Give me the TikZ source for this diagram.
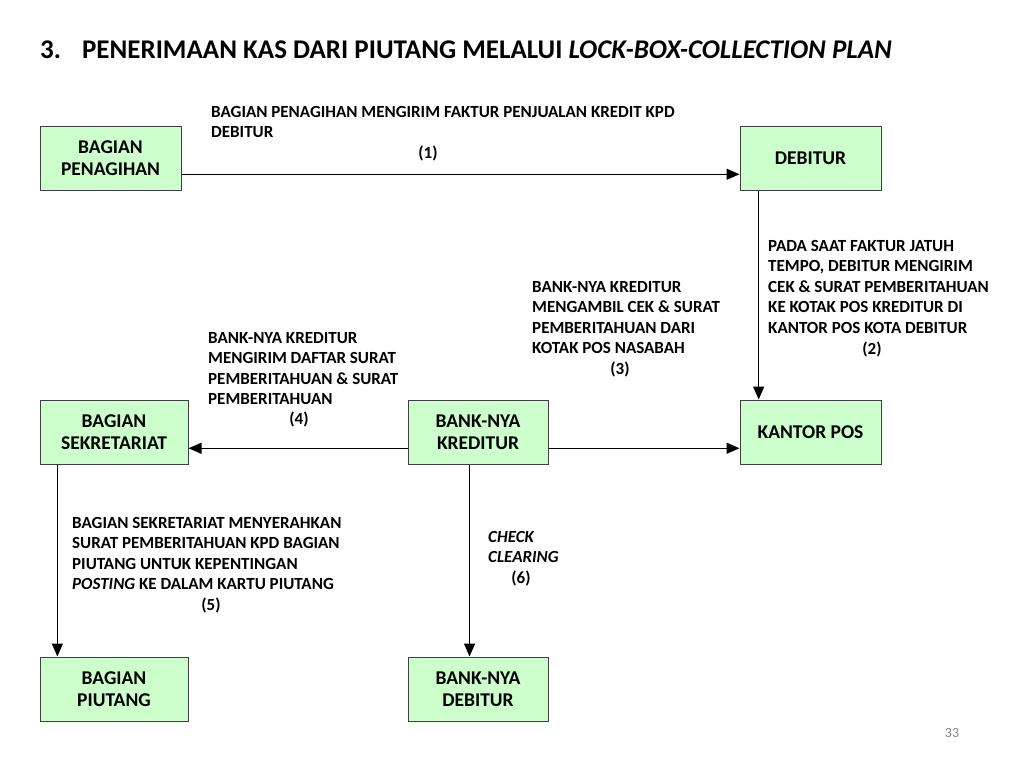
\documentclass[tikz,border=0pt]{standalone}
\usepackage{fontspec}
\setmainfont{Carlito}
\usepackage{tikz}
\usetikzlibrary{positioning, calc, arrows.meta}
\definecolor{boxgreen}{HTML}{CCFFCC}
\definecolor{boxline}{HTML}{404040}
\definecolor{pagegray}{HTML}{888888}

\begin{document}
\begin{tikzpicture}[x=1pt, y=-1pt,
    unit/.style={draw=boxline, fill=boxgreen, line width=1pt, minimum height=64pt,
        align=center, inner sep=0pt, font=\bfseries\fontsize{19.5}{22}\selectfont},
    note/.style={anchor=north west, align=left, inner sep=0pt,
        font=\bfseries\fontsize{17}{20.5}\selectfont},
    num/.style={inner sep=0pt, font=\bfseries\fontsize{17}{20}\selectfont},
    flow/.style={line width=1.4pt, -{Triangle[length=13pt, width=11pt]}}]
            \useasboundingbox (0,0) rectangle (1024,768);
            % title
            \node[anchor=base west, inner sep=0pt, font=\bfseries\fontsize{27}{31}\selectfont] (title) at (40,59)
                {3.\hspace{21pt}PENERIMAAN KAS DARI PIUTANG MELALUI \textit{LOCK-BOX-COLLECTION PLAN}};
            % boxes
            \node[unit, minimum width=141pt] (penagihan) at (110.5,158) {BAGIAN\\PENAGIHAN};
            \node[unit, minimum width=141pt] (debitur) at (810.5,158) {DEBITUR};
            \node[unit, minimum width=148pt] (sekretariat) at (114,432) {BAGIAN\\SEKRETARIAT};
            \node[unit, minimum width=140pt] (kreditur) at (478,432) {BANK-NYA\\KREDITUR};
            \node[unit, minimum width=141pt] (kantorpos) at (810.5,432) {KANTOR POS};
            \node[unit, minimum width=148pt] (piutang) at (114,689) {BAGIAN\\PIUTANG};
            \node[unit, minimum width=140pt] (bankdebitur) at (478,689) {BANK-NYA\\DEBITUR};
            % arrows
            \draw[flow] ($(penagihan.south east)!0.25!(penagihan.north east)$) -- ($(debitur.south west)!0.25!(debitur.north west)$);
            \draw[flow] ($(debitur.south west)!0.135!(debitur.south east)$) -- ($(kantorpos.north west)!0.135!(kantorpos.north east)$);
            \draw[flow] ($(kreditur.south west)!0.25!(kreditur.north west)$) -- ($(sekretariat.south east)!0.25!(sekretariat.north east)$);
            \draw[flow] ($(kreditur.south east)!0.25!(kreditur.north east)$) -- ($(kantorpos.south west)!0.25!(kantorpos.north west)$);
            \draw[flow] ($(sekretariat.south west)!0.12!(sekretariat.south east)$) -- ($(piutang.north west)!0.12!(piutang.north east)$);
            \draw[flow] ($(kreditur.south west)!0.44!(kreditur.south east)$) -- ($(bankdebitur.north west)!0.44!(bankdebitur.north east)$);
            % labels
            \node[note] (lbl1) at (211,106) {BAGIAN PENAGIHAN MENGIRIM FAKTUR PENJUALAN KREDIT KPD\\DEBITUR};
            \node[num] (n1) at (428,153) {(1)};
            \node[note] (lbl2) at (768,240) {PADA SAAT FAKTUR JATUH\\TEMPO, DEBITUR MENGIRIM\\CEK \& SURAT PEMBERITAHUAN\\KE KOTAK POS KREDITUR DI\\KANTOR POS KOTA DEBITUR};
            \node[num] (n2) at (872,349) {(2)};
            \node[note] (lbl3) at (532,281) {BANK-NYA KREDITUR\\MENGAMBIL CEK \& SURAT\\PEMBERITAHUAN DARI\\KOTAK POS NASABAH};
            \node[num] (n3) at (620,369) {(3)};
            \node[note] (lbl4) at (208,332) {BANK-NYA KREDITUR\\MENGIRIM DAFTAR SURAT\\PEMBERITAHUAN \& SURAT\\PEMBERITAHUAN};
            \node[num] (n4) at (299,419) {(4)};
            \node[note] (lbl5) at (72,517) {BAGIAN SEKRETARIAT MENYERAHKAN\\SURAT PEMBERITAHUAN KPD BAGIAN\\PIUTANG UNTUK KEPENTINGAN\\\textit{POSTING} KE DALAM KARTU PIUTANG};
            \node[num] (n5) at (211,605) {(5)};
            \node[note] (lbl6) at (488,531) {\textit{CHECK}\\\textit{CLEARING}};
            \node[num] (n6) at (521,578) {(6)};
            % page number
            \node[inner sep=0pt, text=pagegray, font=\fontsize{14}{16}\selectfont] (page) at (952,733) {33};
        \end{tikzpicture}
\end{document}
